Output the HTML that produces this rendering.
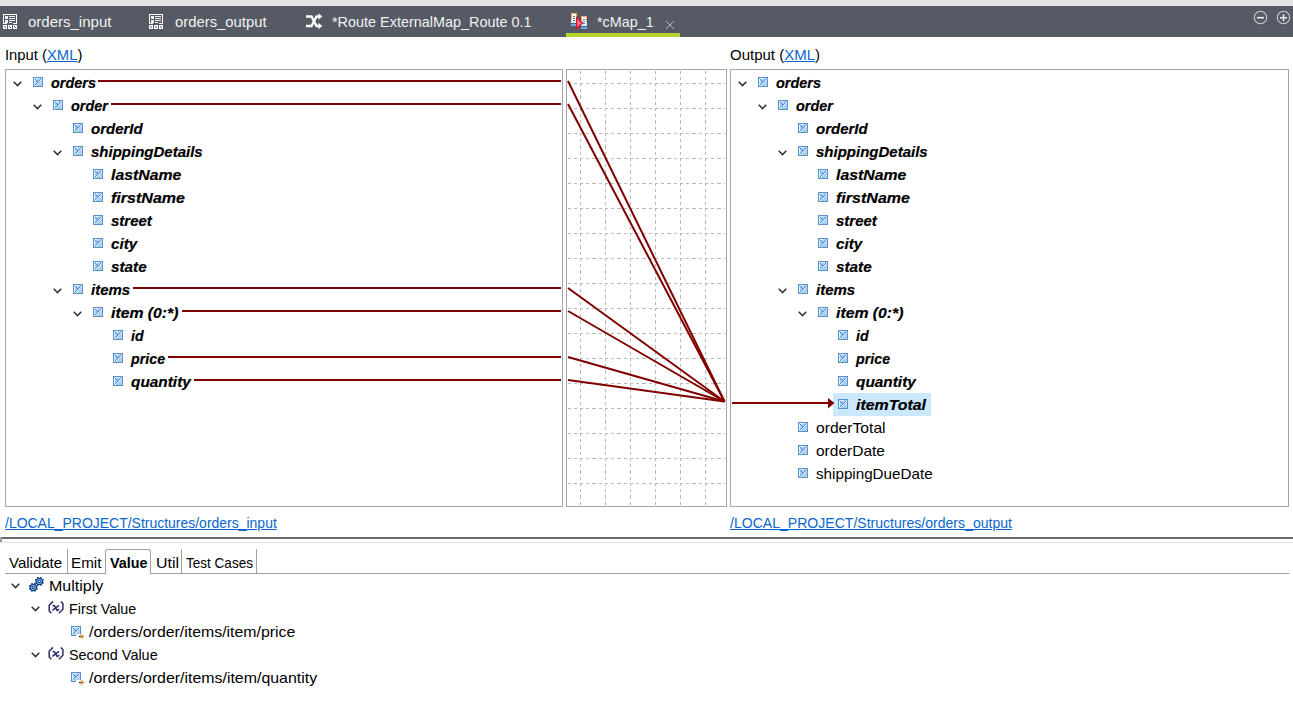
<!DOCTYPE html>
<html><head><meta charset="utf-8">
<style>
*{margin:0;padding:0;box-sizing:border-box}
html,body{width:1293px;height:715px;overflow:hidden;background:#fff}
body{position:relative;font-family:"Liberation Sans", sans-serif;font-size:15px;color:#000}
.a{position:absolute}
.t{position:absolute;white-space:nowrap;line-height:23px;height:23px;transform-origin:0 0}
.bi{font-weight:bold;font-style:italic;-webkit-text-stroke:0.2px #000}
.lnk{color:#0a66cc;text-decoration:underline}
svg{position:absolute;overflow:visible}
</style></head><body>
<svg width="0" height="0" style="position:absolute">
<defs>
<symbol id="el" viewBox="0 0 10 10" shape-rendering="crispEdges">
<rect x="0" y="0" width="10" height="10" fill="#5b8fd0"/>
<rect x="1" y="1" width="8" height="8" fill="#a4d0fa"/>
<rect x="1" y="2" width="1" height="6" fill="#d9fbff"/>
<rect x="2" y="1" width="3" height="1" fill="#d9fbff"/>
<rect x="5" y="1" width="2" height="1" fill="#d4c8ff"/>
<rect x="7" y="1" width="1" height="1" fill="#9fd6c4"/>
<rect x="8" y="3" width="1" height="5" fill="#d0c8ff"/>
<rect x="3" y="8" width="5" height="1" fill="#9fd6c4"/>
<path fill="#5286c8" d="M2 2h1v1h-1zM3 3h1v1h-1zM4 4h1v1h-1zM2 7h1v1h-1zM3 6h1v1h-1zM4 5h1v1h-1zM5 4h1v1h-1zM6 3h1v1h-1zM7 2h1v1h-1z"/>
<path fill="#e0fdff" d="M2 8h1v1h-1zM3 7h1v1h-1zM4 6h1v1h-1zM5 5h1v1h-1zM6 4h1v1h-1zM7 3h1v1h-1zM8 2h1v1h-1z"/>
</symbol>
<symbol id="chev" viewBox="0 0 9 6">
<path d="M0.7 0.8 L4.5 4.6 L8.3 0.8" fill="none" stroke="#333" stroke-width="1.5"/>
</symbol>
</defs></svg>

<div class="a" style="left:0;top:0;width:1293px;height:6px;background:#e4e4e4"></div>
<div class="a" style="left:0;top:6px;width:1293px;height:31px;background:#555a64"></div>
<div class="a" style="left:566px;top:33px;width:114px;height:4px;background:#b6d334"></div>
<svg style="left:3px;top:14px" width="15" height="16" viewBox="0 0 15 16" shape-rendering="crispEdges">
<path fill="#fff" d="M0 0h14v1h-14zM0 0h1v10h-1zM13 0h1v10h-1zM1 9h3v1h-3zM10 9h3v1h-3zM6 8h3v1h-3z"/>
<path fill="#fff" d="M2 2h3v3h-3zM2 6h3v3h-3zM6 2h6v1h-6zM6 4h6v1h-6zM6 6h6v1h-6z" opacity="0.92"/>
<path fill="#fff" d="M0 11h4v4h-4zM5 11h4v4h-4zM10 11h4v4h-4z"/>
<path fill="#555a64" d="M1 12h1v1h-1zM2 13h1v1h-1zM6 12h1v1h-1zM7 13h1v1h-1zM11 12h1v1h-1zM12 13h1v1h-1z"/>
</svg>
<svg style="left:149px;top:14px" width="15" height="16" viewBox="0 0 15 16" shape-rendering="crispEdges">
<path fill="#fff" d="M0 0h14v1h-14zM0 0h1v10h-1zM13 0h1v10h-1zM1 9h3v1h-3zM10 9h3v1h-3zM6 8h3v1h-3z"/>
<path fill="#fff" d="M2 2h3v3h-3zM2 6h3v3h-3zM6 2h6v1h-6zM6 4h6v1h-6zM6 6h6v1h-6z" opacity="0.92"/>
<path fill="#fff" d="M0 11h4v4h-4zM5 11h4v4h-4zM10 11h4v4h-4z"/>
<path fill="#555a64" d="M1 12h1v1h-1zM2 13h1v1h-1zM6 12h1v1h-1zM7 13h1v1h-1zM11 12h1v1h-1zM12 13h1v1h-1z"/>
</svg>
<svg style="left:305px;top:13px" width="18" height="17" viewBox="0 0 18 17">
<path d="M1 3.5 H6.5 L11.5 13 H15" fill="none" stroke="#fff" stroke-width="2.3"/>
<path d="M1 13 H6.5 L11.5 3.5 H15" fill="none" stroke="#fff" stroke-width="2.3"/>
<path d="M13.5 0.3 L17.3 3.5 L13.5 6.7 Z" fill="#fff"/>
<path d="M13.5 9.8 L17.3 13 L13.5 16.2 Z" fill="#fff"/>
</svg>
<svg style="left:570px;top:12px" width="18" height="18" viewBox="0 0 18 18" shape-rendering="crispEdges">
<rect x="1" y="1" width="6" height="10" fill="#f4a860"/>
<rect x="2" y="2" width="4" height="8" fill="#fff"/>
<rect x="1" y="8" width="5" height="3" fill="#c8f8ff"/>
<rect x="3" y="4" width="2" height="1" fill="#666"/><rect x="3" y="6" width="2" height="1" fill="#666"/><rect x="3" y="8" width="2" height="1" fill="#666"/>
<rect x="1" y="12" width="6" height="2" fill="#6ea8e8"/>
<rect x="11" y="4" width="6" height="10" fill="#f4a860"/>
<rect x="12" y="5" width="4" height="8" fill="#fff"/>
<rect x="11" y="11" width="6" height="3" fill="#c8f8ff"/>
<rect x="13" y="7" width="2" height="1" fill="#3a78c8"/><rect x="13" y="9" width="2" height="1" fill="#3a78c8"/><rect x="13" y="11" width="2" height="1" fill="#3a78c8"/>
<rect x="11" y="15" width="6" height="2" fill="#6ea8e8"/>
</svg>
<svg style="left:575px;top:16px" width="9" height="14" viewBox="0 0 9 14">
<path d="M1.6 1.6 L7.6 7 L1.6 12.4 Z" fill="#ff7080" stroke="#e01030" stroke-width="1.2"/>
</svg>
<svg style="left:665px;top:20px" width="10" height="10" viewBox="0 0 10 10">
<path d="M1 1 L9 9 M9 1 L1 9" stroke="#babcc0" stroke-width="1"/>
</svg>
<svg style="left:1252px;top:9px" width="40" height="17" viewBox="0 0 40 17">
<circle cx="8.5" cy="8.5" r="6.2" fill="none" stroke="#cfd0d3" stroke-width="1.1"/>
<path d="M5 8.7 H12" stroke="#f2f2f2" stroke-width="1.6"/>
<circle cx="31.5" cy="8.5" r="6.2" fill="none" stroke="#cfd0d3" stroke-width="1.1"/>
<path d="M28 8.7 H35 M31.5 5.2 V12.2" stroke="#f2f2f2" stroke-width="1.4"/>
</svg>
<div class="t " style="left:28px;top:10px;color:#f2f2f2;">orders_input</div>
<div class="t " style="left:175px;top:10px;color:#f2f2f2;transform:scaleX(0.9891);">orders_output</div>
<div class="t " style="left:332px;top:10px;color:#f2f2f2;transform:scaleX(0.9612);">*Route ExternalMap_Route 0.1</div>
<div class="t " style="left:597px;top:10px;color:#f2f2f2;transform:scaleX(0.9569);">*cMap_1</div>
<div class="t " style="left:5px;top:43px;transform:scaleX(0.9868);">Input (<span class="lnk">XML</span>)</div>
<div class="t " style="left:730px;top:43px;">Output (<span class="lnk">XML</span>)</div>
<div class="a" style="left:5px;top:69px;width:558px;height:438px;border:1px solid #a3a6ad"></div>
<div class="a" style="left:566px;top:69px;width:161px;height:438px;border:1px solid #a3a6ad"></div>
<div class="a" style="left:730px;top:69px;width:559px;height:438px;border:1px solid #a3a6ad"></div>
<svg style="left:13px;top:81px" width="9" height="6"><use href="#chev"/></svg>
<svg style="left:33px;top:77px" width="10" height="10"><use href="#el"/></svg>
<div class="t bi" style="left:51px;top:71px;transform:scaleX(0.9630);">orders</div>
<svg style="left:33px;top:104px" width="9" height="6"><use href="#chev"/></svg>
<svg style="left:53px;top:100px" width="10" height="10"><use href="#el"/></svg>
<div class="t bi" style="left:71px;top:94px;transform:scaleX(0.9615);">order</div>
<svg style="left:73px;top:123px" width="10" height="10"><use href="#el"/></svg>
<div class="t bi" style="left:91px;top:117px;">orderId</div>
<svg style="left:53px;top:150px" width="9" height="6"><use href="#chev"/></svg>
<svg style="left:73px;top:146px" width="10" height="10"><use href="#el"/></svg>
<div class="t bi" style="left:91px;top:140px;">shippingDetails</div>
<svg style="left:93px;top:169px" width="10" height="10"><use href="#el"/></svg>
<div class="t bi" style="left:111px;top:163px;transform:scaleX(1.0545);">lastName</div>
<svg style="left:93px;top:192px" width="10" height="10"><use href="#el"/></svg>
<div class="t bi" style="left:111px;top:186px;transform:scaleX(1.0691);">firstName</div>
<svg style="left:93px;top:215px" width="10" height="10"><use href="#el"/></svg>
<div class="t bi" style="left:111px;top:209px;">street</div>
<svg style="left:93px;top:238px" width="10" height="10"><use href="#el"/></svg>
<div class="t bi" style="left:111px;top:232px;transform:scaleX(1.0115);">city</div>
<svg style="left:93px;top:261px" width="10" height="10"><use href="#el"/></svg>
<div class="t bi" style="left:111px;top:255px;transform:scaleX(1.0200);">state</div>
<svg style="left:53px;top:288px" width="9" height="6"><use href="#chev"/></svg>
<svg style="left:73px;top:284px" width="10" height="10"><use href="#el"/></svg>
<div class="t bi" style="left:91px;top:278px;">items</div>
<svg style="left:73px;top:311px" width="9" height="6"><use href="#chev"/></svg>
<svg style="left:93px;top:307px" width="10" height="10"><use href="#el"/></svg>
<div class="t bi" style="left:111px;top:301px;transform:scaleX(1.0516);">item (0:*)</div>
<svg style="left:113px;top:330px" width="10" height="10"><use href="#el"/></svg>
<div class="t bi" style="left:131px;top:324px;transform:scaleX(0.9429);">id</div>
<svg style="left:113px;top:353px" width="10" height="10"><use href="#el"/></svg>
<div class="t bi" style="left:131px;top:347px;transform:scaleX(0.9500);">price</div>
<svg style="left:113px;top:376px" width="10" height="10"><use href="#el"/></svg>
<div class="t bi" style="left:131px;top:370px;transform:scaleX(1.0254);">quantity</div>
<div class="a" style="left:833px;top:393px;width:98px;height:23px;background:#cce8ff"></div>
<svg style="left:738px;top:81px" width="9" height="6"><use href="#chev"/></svg>
<svg style="left:758px;top:77px" width="10" height="10"><use href="#el"/></svg>
<div class="t bi" style="left:776px;top:71px;transform:scaleX(0.9630);">orders</div>
<svg style="left:758px;top:104px" width="9" height="6"><use href="#chev"/></svg>
<svg style="left:778px;top:100px" width="10" height="10"><use href="#el"/></svg>
<div class="t bi" style="left:796px;top:94px;transform:scaleX(0.9615);">order</div>
<svg style="left:798px;top:123px" width="10" height="10"><use href="#el"/></svg>
<div class="t bi" style="left:816px;top:117px;">orderId</div>
<svg style="left:778px;top:150px" width="9" height="6"><use href="#chev"/></svg>
<svg style="left:798px;top:146px" width="10" height="10"><use href="#el"/></svg>
<div class="t bi" style="left:816px;top:140px;">shippingDetails</div>
<svg style="left:818px;top:169px" width="10" height="10"><use href="#el"/></svg>
<div class="t bi" style="left:836px;top:163px;transform:scaleX(1.0545);">lastName</div>
<svg style="left:818px;top:192px" width="10" height="10"><use href="#el"/></svg>
<div class="t bi" style="left:836px;top:186px;transform:scaleX(1.0691);">firstName</div>
<svg style="left:818px;top:215px" width="10" height="10"><use href="#el"/></svg>
<div class="t bi" style="left:836px;top:209px;">street</div>
<svg style="left:818px;top:238px" width="10" height="10"><use href="#el"/></svg>
<div class="t bi" style="left:836px;top:232px;transform:scaleX(1.0115);">city</div>
<svg style="left:818px;top:261px" width="10" height="10"><use href="#el"/></svg>
<div class="t bi" style="left:836px;top:255px;transform:scaleX(1.0200);">state</div>
<svg style="left:778px;top:288px" width="9" height="6"><use href="#chev"/></svg>
<svg style="left:798px;top:284px" width="10" height="10"><use href="#el"/></svg>
<div class="t bi" style="left:816px;top:278px;">items</div>
<svg style="left:798px;top:311px" width="9" height="6"><use href="#chev"/></svg>
<svg style="left:818px;top:307px" width="10" height="10"><use href="#el"/></svg>
<div class="t bi" style="left:836px;top:301px;transform:scaleX(1.0516);">item (0:*)</div>
<svg style="left:838px;top:330px" width="10" height="10"><use href="#el"/></svg>
<div class="t bi" style="left:856px;top:324px;transform:scaleX(0.9429);">id</div>
<svg style="left:838px;top:353px" width="10" height="10"><use href="#el"/></svg>
<div class="t bi" style="left:856px;top:347px;transform:scaleX(0.9500);">price</div>
<svg style="left:838px;top:376px" width="10" height="10"><use href="#el"/></svg>
<div class="t bi" style="left:856px;top:370px;transform:scaleX(1.0254);">quantity</div>
<svg style="left:838px;top:399px" width="10" height="10"><use href="#el"/></svg>
<div class="t bi" style="left:856px;top:393px;transform:scaleX(1.0582);">itemTotal</div>
<svg style="left:798px;top:422px" width="10" height="10"><use href="#el"/></svg>
<div class="t " style="left:816px;top:416px;transform:scaleX(1.0431);">orderTotal</div>
<svg style="left:798px;top:445px" width="10" height="10"><use href="#el"/></svg>
<div class="t " style="left:816px;top:439px;transform:scaleX(1.0338);">orderDate</div>
<svg style="left:798px;top:468px" width="10" height="10"><use href="#el"/></svg>
<div class="t " style="left:816px;top:462px;transform:scaleX(1.0132);">shippingDueDate</div>
<div class="a" style="left:98px;top:80px;width:463px;height:2px;background:#800000"></div>
<div class="a" style="left:111px;top:103px;width:450px;height:2px;background:#800000"></div>
<div class="a" style="left:133px;top:287px;width:428px;height:2px;background:#800000"></div>
<div class="a" style="left:182px;top:310px;width:379px;height:2px;background:#800000"></div>
<div class="a" style="left:168px;top:356px;width:393px;height:2px;background:#800000"></div>
<div class="a" style="left:194px;top:379px;width:367px;height:2px;background:#800000"></div>
<svg style="left:0;top:0" width="1293" height="715" shape-rendering="crispEdges"><path fill="#b9b9b9" d="M568 83h3v1h-3zM574 83h3v1h-3zM580 83h3v1h-3zM586 83h3v1h-3zM592 83h4v1h-4zM599 83h3v1h-3zM605 83h3v1h-3zM611 83h3v1h-3zM617 83h4v1h-4zM624 83h3v1h-3zM630 83h3v1h-3zM636 83h3v1h-3zM642 83h4v1h-4zM649 83h3v1h-3zM655 83h3v1h-3zM661 83h3v1h-3zM667 83h4v1h-4zM674 83h3v1h-3zM680 83h3v1h-3zM686 83h3v1h-3zM692 83h4v1h-4zM699 83h3v1h-3zM705 83h3v1h-3zM711 83h3v1h-3zM717 83h4v1h-4zM724 83h1v1h-1zM568 108h3v1h-3zM574 108h3v1h-3zM580 108h3v1h-3zM586 108h3v1h-3zM592 108h4v1h-4zM599 108h3v1h-3zM605 108h3v1h-3zM611 108h3v1h-3zM617 108h4v1h-4zM624 108h3v1h-3zM630 108h3v1h-3zM636 108h3v1h-3zM642 108h4v1h-4zM649 108h3v1h-3zM655 108h3v1h-3zM661 108h3v1h-3zM667 108h4v1h-4zM674 108h3v1h-3zM680 108h3v1h-3zM686 108h3v1h-3zM692 108h4v1h-4zM699 108h3v1h-3zM705 108h3v1h-3zM711 108h3v1h-3zM717 108h4v1h-4zM724 108h1v1h-1zM568 133h3v1h-3zM574 133h3v1h-3zM580 133h3v1h-3zM586 133h3v1h-3zM592 133h4v1h-4zM599 133h3v1h-3zM605 133h3v1h-3zM611 133h3v1h-3zM617 133h4v1h-4zM624 133h3v1h-3zM630 133h3v1h-3zM636 133h3v1h-3zM642 133h4v1h-4zM649 133h3v1h-3zM655 133h3v1h-3zM661 133h3v1h-3zM667 133h4v1h-4zM674 133h3v1h-3zM680 133h3v1h-3zM686 133h3v1h-3zM692 133h4v1h-4zM699 133h3v1h-3zM705 133h3v1h-3zM711 133h3v1h-3zM717 133h4v1h-4zM724 133h1v1h-1zM568 158h3v1h-3zM574 158h3v1h-3zM580 158h3v1h-3zM586 158h3v1h-3zM592 158h4v1h-4zM599 158h3v1h-3zM605 158h3v1h-3zM611 158h3v1h-3zM617 158h4v1h-4zM624 158h3v1h-3zM630 158h3v1h-3zM636 158h3v1h-3zM642 158h4v1h-4zM649 158h3v1h-3zM655 158h3v1h-3zM661 158h3v1h-3zM667 158h4v1h-4zM674 158h3v1h-3zM680 158h3v1h-3zM686 158h3v1h-3zM692 158h4v1h-4zM699 158h3v1h-3zM705 158h3v1h-3zM711 158h3v1h-3zM717 158h4v1h-4zM724 158h1v1h-1zM568 183h3v1h-3zM574 183h3v1h-3zM580 183h3v1h-3zM586 183h3v1h-3zM592 183h4v1h-4zM599 183h3v1h-3zM605 183h3v1h-3zM611 183h3v1h-3zM617 183h4v1h-4zM624 183h3v1h-3zM630 183h3v1h-3zM636 183h3v1h-3zM642 183h4v1h-4zM649 183h3v1h-3zM655 183h3v1h-3zM661 183h3v1h-3zM667 183h4v1h-4zM674 183h3v1h-3zM680 183h3v1h-3zM686 183h3v1h-3zM692 183h4v1h-4zM699 183h3v1h-3zM705 183h3v1h-3zM711 183h3v1h-3zM717 183h4v1h-4zM724 183h1v1h-1zM568 208h3v1h-3zM574 208h3v1h-3zM580 208h3v1h-3zM586 208h3v1h-3zM592 208h4v1h-4zM599 208h3v1h-3zM605 208h3v1h-3zM611 208h3v1h-3zM617 208h4v1h-4zM624 208h3v1h-3zM630 208h3v1h-3zM636 208h3v1h-3zM642 208h4v1h-4zM649 208h3v1h-3zM655 208h3v1h-3zM661 208h3v1h-3zM667 208h4v1h-4zM674 208h3v1h-3zM680 208h3v1h-3zM686 208h3v1h-3zM692 208h4v1h-4zM699 208h3v1h-3zM705 208h3v1h-3zM711 208h3v1h-3zM717 208h4v1h-4zM724 208h1v1h-1zM568 233h3v1h-3zM574 233h3v1h-3zM580 233h3v1h-3zM586 233h3v1h-3zM592 233h4v1h-4zM599 233h3v1h-3zM605 233h3v1h-3zM611 233h3v1h-3zM617 233h4v1h-4zM624 233h3v1h-3zM630 233h3v1h-3zM636 233h3v1h-3zM642 233h4v1h-4zM649 233h3v1h-3zM655 233h3v1h-3zM661 233h3v1h-3zM667 233h4v1h-4zM674 233h3v1h-3zM680 233h3v1h-3zM686 233h3v1h-3zM692 233h4v1h-4zM699 233h3v1h-3zM705 233h3v1h-3zM711 233h3v1h-3zM717 233h4v1h-4zM724 233h1v1h-1zM568 258h3v1h-3zM574 258h3v1h-3zM580 258h3v1h-3zM586 258h3v1h-3zM592 258h4v1h-4zM599 258h3v1h-3zM605 258h3v1h-3zM611 258h3v1h-3zM617 258h4v1h-4zM624 258h3v1h-3zM630 258h3v1h-3zM636 258h3v1h-3zM642 258h4v1h-4zM649 258h3v1h-3zM655 258h3v1h-3zM661 258h3v1h-3zM667 258h4v1h-4zM674 258h3v1h-3zM680 258h3v1h-3zM686 258h3v1h-3zM692 258h4v1h-4zM699 258h3v1h-3zM705 258h3v1h-3zM711 258h3v1h-3zM717 258h4v1h-4zM724 258h1v1h-1zM568 283h3v1h-3zM574 283h3v1h-3zM580 283h3v1h-3zM586 283h3v1h-3zM592 283h4v1h-4zM599 283h3v1h-3zM605 283h3v1h-3zM611 283h3v1h-3zM617 283h4v1h-4zM624 283h3v1h-3zM630 283h3v1h-3zM636 283h3v1h-3zM642 283h4v1h-4zM649 283h3v1h-3zM655 283h3v1h-3zM661 283h3v1h-3zM667 283h4v1h-4zM674 283h3v1h-3zM680 283h3v1h-3zM686 283h3v1h-3zM692 283h4v1h-4zM699 283h3v1h-3zM705 283h3v1h-3zM711 283h3v1h-3zM717 283h4v1h-4zM724 283h1v1h-1zM568 308h3v1h-3zM574 308h3v1h-3zM580 308h3v1h-3zM586 308h3v1h-3zM592 308h4v1h-4zM599 308h3v1h-3zM605 308h3v1h-3zM611 308h3v1h-3zM617 308h4v1h-4zM624 308h3v1h-3zM630 308h3v1h-3zM636 308h3v1h-3zM642 308h4v1h-4zM649 308h3v1h-3zM655 308h3v1h-3zM661 308h3v1h-3zM667 308h4v1h-4zM674 308h3v1h-3zM680 308h3v1h-3zM686 308h3v1h-3zM692 308h4v1h-4zM699 308h3v1h-3zM705 308h3v1h-3zM711 308h3v1h-3zM717 308h4v1h-4zM724 308h1v1h-1zM568 333h3v1h-3zM574 333h3v1h-3zM580 333h3v1h-3zM586 333h3v1h-3zM592 333h4v1h-4zM599 333h3v1h-3zM605 333h3v1h-3zM611 333h3v1h-3zM617 333h4v1h-4zM624 333h3v1h-3zM630 333h3v1h-3zM636 333h3v1h-3zM642 333h4v1h-4zM649 333h3v1h-3zM655 333h3v1h-3zM661 333h3v1h-3zM667 333h4v1h-4zM674 333h3v1h-3zM680 333h3v1h-3zM686 333h3v1h-3zM692 333h4v1h-4zM699 333h3v1h-3zM705 333h3v1h-3zM711 333h3v1h-3zM717 333h4v1h-4zM724 333h1v1h-1zM568 358h3v1h-3zM574 358h3v1h-3zM580 358h3v1h-3zM586 358h3v1h-3zM592 358h4v1h-4zM599 358h3v1h-3zM605 358h3v1h-3zM611 358h3v1h-3zM617 358h4v1h-4zM624 358h3v1h-3zM630 358h3v1h-3zM636 358h3v1h-3zM642 358h4v1h-4zM649 358h3v1h-3zM655 358h3v1h-3zM661 358h3v1h-3zM667 358h4v1h-4zM674 358h3v1h-3zM680 358h3v1h-3zM686 358h3v1h-3zM692 358h4v1h-4zM699 358h3v1h-3zM705 358h3v1h-3zM711 358h3v1h-3zM717 358h4v1h-4zM724 358h1v1h-1zM568 383h3v1h-3zM574 383h3v1h-3zM580 383h3v1h-3zM586 383h3v1h-3zM592 383h4v1h-4zM599 383h3v1h-3zM605 383h3v1h-3zM611 383h3v1h-3zM617 383h4v1h-4zM624 383h3v1h-3zM630 383h3v1h-3zM636 383h3v1h-3zM642 383h4v1h-4zM649 383h3v1h-3zM655 383h3v1h-3zM661 383h3v1h-3zM667 383h4v1h-4zM674 383h3v1h-3zM680 383h3v1h-3zM686 383h3v1h-3zM692 383h4v1h-4zM699 383h3v1h-3zM705 383h3v1h-3zM711 383h3v1h-3zM717 383h4v1h-4zM724 383h1v1h-1zM568 408h3v1h-3zM574 408h3v1h-3zM580 408h3v1h-3zM586 408h3v1h-3zM592 408h4v1h-4zM599 408h3v1h-3zM605 408h3v1h-3zM611 408h3v1h-3zM617 408h4v1h-4zM624 408h3v1h-3zM630 408h3v1h-3zM636 408h3v1h-3zM642 408h4v1h-4zM649 408h3v1h-3zM655 408h3v1h-3zM661 408h3v1h-3zM667 408h4v1h-4zM674 408h3v1h-3zM680 408h3v1h-3zM686 408h3v1h-3zM692 408h4v1h-4zM699 408h3v1h-3zM705 408h3v1h-3zM711 408h3v1h-3zM717 408h4v1h-4zM724 408h1v1h-1zM568 433h3v1h-3zM574 433h3v1h-3zM580 433h3v1h-3zM586 433h3v1h-3zM592 433h4v1h-4zM599 433h3v1h-3zM605 433h3v1h-3zM611 433h3v1h-3zM617 433h4v1h-4zM624 433h3v1h-3zM630 433h3v1h-3zM636 433h3v1h-3zM642 433h4v1h-4zM649 433h3v1h-3zM655 433h3v1h-3zM661 433h3v1h-3zM667 433h4v1h-4zM674 433h3v1h-3zM680 433h3v1h-3zM686 433h3v1h-3zM692 433h4v1h-4zM699 433h3v1h-3zM705 433h3v1h-3zM711 433h3v1h-3zM717 433h4v1h-4zM724 433h1v1h-1zM568 458h3v1h-3zM574 458h3v1h-3zM580 458h3v1h-3zM586 458h3v1h-3zM592 458h4v1h-4zM599 458h3v1h-3zM605 458h3v1h-3zM611 458h3v1h-3zM617 458h4v1h-4zM624 458h3v1h-3zM630 458h3v1h-3zM636 458h3v1h-3zM642 458h4v1h-4zM649 458h3v1h-3zM655 458h3v1h-3zM661 458h3v1h-3zM667 458h4v1h-4zM674 458h3v1h-3zM680 458h3v1h-3zM686 458h3v1h-3zM692 458h4v1h-4zM699 458h3v1h-3zM705 458h3v1h-3zM711 458h3v1h-3zM717 458h4v1h-4zM724 458h1v1h-1zM568 483h3v1h-3zM574 483h3v1h-3zM580 483h3v1h-3zM586 483h3v1h-3zM592 483h4v1h-4zM599 483h3v1h-3zM605 483h3v1h-3zM611 483h3v1h-3zM617 483h4v1h-4zM624 483h3v1h-3zM630 483h3v1h-3zM636 483h3v1h-3zM642 483h4v1h-4zM649 483h3v1h-3zM655 483h3v1h-3zM661 483h3v1h-3zM667 483h4v1h-4zM674 483h3v1h-3zM680 483h3v1h-3zM686 483h3v1h-3zM692 483h4v1h-4zM699 483h3v1h-3zM705 483h3v1h-3zM711 483h3v1h-3zM717 483h4v1h-4zM724 483h1v1h-1zM580 71h1v3h-1zM580 77h1v3h-1zM580 83h1v3h-1zM580 89h1v3h-1zM580 95h1v4h-1zM580 102h1v3h-1zM580 108h1v3h-1zM580 114h1v3h-1zM580 120h1v4h-1zM580 127h1v3h-1zM580 133h1v3h-1zM580 139h1v3h-1zM580 145h1v4h-1zM580 152h1v3h-1zM580 158h1v3h-1zM580 164h1v3h-1zM580 170h1v4h-1zM580 177h1v3h-1zM580 183h1v3h-1zM580 189h1v3h-1zM580 195h1v4h-1zM580 202h1v3h-1zM580 208h1v3h-1zM580 214h1v3h-1zM580 220h1v4h-1zM580 227h1v3h-1zM580 233h1v3h-1zM580 239h1v3h-1zM580 245h1v4h-1zM580 252h1v3h-1zM580 258h1v3h-1zM580 264h1v3h-1zM580 270h1v4h-1zM580 277h1v3h-1zM580 283h1v3h-1zM580 289h1v3h-1zM580 295h1v4h-1zM580 302h1v3h-1zM580 308h1v3h-1zM580 314h1v3h-1zM580 320h1v4h-1zM580 327h1v3h-1zM580 333h1v3h-1zM580 339h1v3h-1zM580 345h1v4h-1zM580 352h1v3h-1zM580 358h1v3h-1zM580 364h1v3h-1zM580 370h1v4h-1zM580 377h1v3h-1zM580 383h1v3h-1zM580 389h1v3h-1zM580 395h1v4h-1zM580 402h1v3h-1zM580 408h1v3h-1zM580 414h1v3h-1zM580 420h1v4h-1zM580 427h1v3h-1zM580 433h1v3h-1zM580 439h1v3h-1zM580 445h1v4h-1zM580 452h1v3h-1zM580 458h1v3h-1zM580 464h1v3h-1zM580 470h1v4h-1zM580 477h1v3h-1zM580 483h1v3h-1zM580 489h1v3h-1zM580 495h1v4h-1zM580 502h1v3h-1zM605 71h1v3h-1zM605 77h1v3h-1zM605 83h1v3h-1zM605 89h1v3h-1zM605 95h1v4h-1zM605 102h1v3h-1zM605 108h1v3h-1zM605 114h1v3h-1zM605 120h1v4h-1zM605 127h1v3h-1zM605 133h1v3h-1zM605 139h1v3h-1zM605 145h1v4h-1zM605 152h1v3h-1zM605 158h1v3h-1zM605 164h1v3h-1zM605 170h1v4h-1zM605 177h1v3h-1zM605 183h1v3h-1zM605 189h1v3h-1zM605 195h1v4h-1zM605 202h1v3h-1zM605 208h1v3h-1zM605 214h1v3h-1zM605 220h1v4h-1zM605 227h1v3h-1zM605 233h1v3h-1zM605 239h1v3h-1zM605 245h1v4h-1zM605 252h1v3h-1zM605 258h1v3h-1zM605 264h1v3h-1zM605 270h1v4h-1zM605 277h1v3h-1zM605 283h1v3h-1zM605 289h1v3h-1zM605 295h1v4h-1zM605 302h1v3h-1zM605 308h1v3h-1zM605 314h1v3h-1zM605 320h1v4h-1zM605 327h1v3h-1zM605 333h1v3h-1zM605 339h1v3h-1zM605 345h1v4h-1zM605 352h1v3h-1zM605 358h1v3h-1zM605 364h1v3h-1zM605 370h1v4h-1zM605 377h1v3h-1zM605 383h1v3h-1zM605 389h1v3h-1zM605 395h1v4h-1zM605 402h1v3h-1zM605 408h1v3h-1zM605 414h1v3h-1zM605 420h1v4h-1zM605 427h1v3h-1zM605 433h1v3h-1zM605 439h1v3h-1zM605 445h1v4h-1zM605 452h1v3h-1zM605 458h1v3h-1zM605 464h1v3h-1zM605 470h1v4h-1zM605 477h1v3h-1zM605 483h1v3h-1zM605 489h1v3h-1zM605 495h1v4h-1zM605 502h1v3h-1zM630 71h1v3h-1zM630 77h1v3h-1zM630 83h1v3h-1zM630 89h1v3h-1zM630 95h1v4h-1zM630 102h1v3h-1zM630 108h1v3h-1zM630 114h1v3h-1zM630 120h1v4h-1zM630 127h1v3h-1zM630 133h1v3h-1zM630 139h1v3h-1zM630 145h1v4h-1zM630 152h1v3h-1zM630 158h1v3h-1zM630 164h1v3h-1zM630 170h1v4h-1zM630 177h1v3h-1zM630 183h1v3h-1zM630 189h1v3h-1zM630 195h1v4h-1zM630 202h1v3h-1zM630 208h1v3h-1zM630 214h1v3h-1zM630 220h1v4h-1zM630 227h1v3h-1zM630 233h1v3h-1zM630 239h1v3h-1zM630 245h1v4h-1zM630 252h1v3h-1zM630 258h1v3h-1zM630 264h1v3h-1zM630 270h1v4h-1zM630 277h1v3h-1zM630 283h1v3h-1zM630 289h1v3h-1zM630 295h1v4h-1zM630 302h1v3h-1zM630 308h1v3h-1zM630 314h1v3h-1zM630 320h1v4h-1zM630 327h1v3h-1zM630 333h1v3h-1zM630 339h1v3h-1zM630 345h1v4h-1zM630 352h1v3h-1zM630 358h1v3h-1zM630 364h1v3h-1zM630 370h1v4h-1zM630 377h1v3h-1zM630 383h1v3h-1zM630 389h1v3h-1zM630 395h1v4h-1zM630 402h1v3h-1zM630 408h1v3h-1zM630 414h1v3h-1zM630 420h1v4h-1zM630 427h1v3h-1zM630 433h1v3h-1zM630 439h1v3h-1zM630 445h1v4h-1zM630 452h1v3h-1zM630 458h1v3h-1zM630 464h1v3h-1zM630 470h1v4h-1zM630 477h1v3h-1zM630 483h1v3h-1zM630 489h1v3h-1zM630 495h1v4h-1zM630 502h1v3h-1zM655 71h1v3h-1zM655 77h1v3h-1zM655 83h1v3h-1zM655 89h1v3h-1zM655 95h1v4h-1zM655 102h1v3h-1zM655 108h1v3h-1zM655 114h1v3h-1zM655 120h1v4h-1zM655 127h1v3h-1zM655 133h1v3h-1zM655 139h1v3h-1zM655 145h1v4h-1zM655 152h1v3h-1zM655 158h1v3h-1zM655 164h1v3h-1zM655 170h1v4h-1zM655 177h1v3h-1zM655 183h1v3h-1zM655 189h1v3h-1zM655 195h1v4h-1zM655 202h1v3h-1zM655 208h1v3h-1zM655 214h1v3h-1zM655 220h1v4h-1zM655 227h1v3h-1zM655 233h1v3h-1zM655 239h1v3h-1zM655 245h1v4h-1zM655 252h1v3h-1zM655 258h1v3h-1zM655 264h1v3h-1zM655 270h1v4h-1zM655 277h1v3h-1zM655 283h1v3h-1zM655 289h1v3h-1zM655 295h1v4h-1zM655 302h1v3h-1zM655 308h1v3h-1zM655 314h1v3h-1zM655 320h1v4h-1zM655 327h1v3h-1zM655 333h1v3h-1zM655 339h1v3h-1zM655 345h1v4h-1zM655 352h1v3h-1zM655 358h1v3h-1zM655 364h1v3h-1zM655 370h1v4h-1zM655 377h1v3h-1zM655 383h1v3h-1zM655 389h1v3h-1zM655 395h1v4h-1zM655 402h1v3h-1zM655 408h1v3h-1zM655 414h1v3h-1zM655 420h1v4h-1zM655 427h1v3h-1zM655 433h1v3h-1zM655 439h1v3h-1zM655 445h1v4h-1zM655 452h1v3h-1zM655 458h1v3h-1zM655 464h1v3h-1zM655 470h1v4h-1zM655 477h1v3h-1zM655 483h1v3h-1zM655 489h1v3h-1zM655 495h1v4h-1zM655 502h1v3h-1zM680 71h1v3h-1zM680 77h1v3h-1zM680 83h1v3h-1zM680 89h1v3h-1zM680 95h1v4h-1zM680 102h1v3h-1zM680 108h1v3h-1zM680 114h1v3h-1zM680 120h1v4h-1zM680 127h1v3h-1zM680 133h1v3h-1zM680 139h1v3h-1zM680 145h1v4h-1zM680 152h1v3h-1zM680 158h1v3h-1zM680 164h1v3h-1zM680 170h1v4h-1zM680 177h1v3h-1zM680 183h1v3h-1zM680 189h1v3h-1zM680 195h1v4h-1zM680 202h1v3h-1zM680 208h1v3h-1zM680 214h1v3h-1zM680 220h1v4h-1zM680 227h1v3h-1zM680 233h1v3h-1zM680 239h1v3h-1zM680 245h1v4h-1zM680 252h1v3h-1zM680 258h1v3h-1zM680 264h1v3h-1zM680 270h1v4h-1zM680 277h1v3h-1zM680 283h1v3h-1zM680 289h1v3h-1zM680 295h1v4h-1zM680 302h1v3h-1zM680 308h1v3h-1zM680 314h1v3h-1zM680 320h1v4h-1zM680 327h1v3h-1zM680 333h1v3h-1zM680 339h1v3h-1zM680 345h1v4h-1zM680 352h1v3h-1zM680 358h1v3h-1zM680 364h1v3h-1zM680 370h1v4h-1zM680 377h1v3h-1zM680 383h1v3h-1zM680 389h1v3h-1zM680 395h1v4h-1zM680 402h1v3h-1zM680 408h1v3h-1zM680 414h1v3h-1zM680 420h1v4h-1zM680 427h1v3h-1zM680 433h1v3h-1zM680 439h1v3h-1zM680 445h1v4h-1zM680 452h1v3h-1zM680 458h1v3h-1zM680 464h1v3h-1zM680 470h1v4h-1zM680 477h1v3h-1zM680 483h1v3h-1zM680 489h1v3h-1zM680 495h1v4h-1zM680 502h1v3h-1zM705 71h1v3h-1zM705 77h1v3h-1zM705 83h1v3h-1zM705 89h1v3h-1zM705 95h1v4h-1zM705 102h1v3h-1zM705 108h1v3h-1zM705 114h1v3h-1zM705 120h1v4h-1zM705 127h1v3h-1zM705 133h1v3h-1zM705 139h1v3h-1zM705 145h1v4h-1zM705 152h1v3h-1zM705 158h1v3h-1zM705 164h1v3h-1zM705 170h1v4h-1zM705 177h1v3h-1zM705 183h1v3h-1zM705 189h1v3h-1zM705 195h1v4h-1zM705 202h1v3h-1zM705 208h1v3h-1zM705 214h1v3h-1zM705 220h1v4h-1zM705 227h1v3h-1zM705 233h1v3h-1zM705 239h1v3h-1zM705 245h1v4h-1zM705 252h1v3h-1zM705 258h1v3h-1zM705 264h1v3h-1zM705 270h1v4h-1zM705 277h1v3h-1zM705 283h1v3h-1zM705 289h1v3h-1zM705 295h1v4h-1zM705 302h1v3h-1zM705 308h1v3h-1zM705 314h1v3h-1zM705 320h1v4h-1zM705 327h1v3h-1zM705 333h1v3h-1zM705 339h1v3h-1zM705 345h1v4h-1zM705 352h1v3h-1zM705 358h1v3h-1zM705 364h1v3h-1zM705 370h1v4h-1zM705 377h1v3h-1zM705 383h1v3h-1zM705 389h1v3h-1zM705 395h1v4h-1zM705 402h1v3h-1zM705 408h1v3h-1zM705 414h1v3h-1zM705 420h1v4h-1zM705 427h1v3h-1zM705 433h1v3h-1zM705 439h1v3h-1zM705 445h1v4h-1zM705 452h1v3h-1zM705 458h1v3h-1zM705 464h1v3h-1zM705 470h1v4h-1zM705 477h1v3h-1zM705 483h1v3h-1zM705 489h1v3h-1zM705 495h1v4h-1zM705 502h1v3h-1z"/></svg>
<svg style="left:0;top:0" width="1293" height="715"><g stroke="#800000" stroke-width="2"><line x1="568" y1="81" x2="724.5" y2="401.5"/><line x1="568" y1="104" x2="724.5" y2="401.5"/><line x1="568" y1="288" x2="724.5" y2="401.5"/><line x1="568" y1="311" x2="724.5" y2="401.5"/><line x1="568" y1="357" x2="724.5" y2="401.5"/><line x1="568" y1="380" x2="724.5" y2="401.5"/></g><rect x="732" y="402" width="97" height="2" fill="#800000"/><path d="M828 398 L834.5 403 L828 408.5 Z" fill="#800000"/></svg>
<div class="t lnk" style="left:5px;top:511px;transform:scaleX(0.9315);">/LOCAL_PROJECT/Structures/orders_input</div>
<div class="t lnk" style="left:730px;top:511px;transform:scaleX(0.9369);">/LOCAL_PROJECT/Structures/orders_output</div>
<div class="a" style="left:0;top:537px;width:1293px;height:2px;background:#696969"></div>
<div class="a" style="left:0;top:537px;width:2px;height:6px;background:#9a9a9a"></div>
<div class="a" style="left:0;top:542px;width:1293px;height:1px;background:#e0e0e0"></div>
<div class="a" style="left:5px;top:573px;width:1284px;height:1px;background:#a0a0a0"></div>
<div class="a" style="left:67px;top:549px;width:1px;height:24px;background:#a0a0a0"></div>
<div class="a" style="left:181px;top:549px;width:1px;height:24px;background:#a0a0a0"></div>
<div class="a" style="left:256px;top:549px;width:1px;height:24px;background:#a0a0a0"></div>
<div class="a" style="left:105px;top:549px;width:46px;height:25px;border:1px solid #a0a0a0;border-bottom:none;border-radius:3px 3px 0 0;background:#fff"></div>
<div class="t " style="left:9px;top:551px;">Validate</div>
<div class="t " style="left:71px;top:551px;transform:scaleX(1.0138);">Emit</div>
<div class="t " style="left:110px;top:551px;font-weight:bold;transform:scaleX(0.9538);">Value</div>
<div class="t " style="left:156px;top:551px;transform:scaleX(1.0650);">Util</div>
<div class="t " style="left:186px;top:551px;transform:scaleX(0.9027);">Test Cases</div>
<svg style="left:11px;top:583px" width="9" height="6"><use href="#chev"/></svg>
<div class="t " style="left:49px;top:574px;transform:scaleX(1.0680);">Multiply</div>
<svg style="left:27px;top:575px" width="20" height="20" viewBox="0 0 20 20"><g fill="#0b3f80"><circle cx="6.4" cy="12.4" r="3.7"/><circle cx="9.82" cy="13.81" r="0.95"/><circle cx="7.83" cy="15.81" r="0.95"/><circle cx="4.99" cy="15.82" r="0.95"/><circle cx="2.99" cy="13.83" r="0.95"/><circle cx="2.98" cy="10.99" r="0.95"/><circle cx="4.97" cy="8.99" r="0.95"/><circle cx="7.81" cy="8.98" r="0.95"/><circle cx="9.81" cy="10.97" r="0.95"/></g><circle cx="6.4" cy="12.4" r="2.6" fill="#74a6e4"/><circle cx="6.4" cy="12.4" r="1.5" fill="#0b3f80"/><circle cx="6.4" cy="12.4" r="0.7" fill="#fff"/><g fill="#0b3f80"><circle cx="12.4" cy="6.4" r="3.7"/><circle cx="15.82" cy="7.81" r="0.95"/><circle cx="13.83" cy="9.81" r="0.95"/><circle cx="10.99" cy="9.82" r="0.95"/><circle cx="8.99" cy="7.83" r="0.95"/><circle cx="8.98" cy="4.99" r="0.95"/><circle cx="10.97" cy="2.99" r="0.95"/><circle cx="13.81" cy="2.98" r="0.95"/><circle cx="15.81" cy="4.97" r="0.95"/></g><circle cx="12.4" cy="6.4" r="2.6" fill="#74a6e4"/><circle cx="12.4" cy="6.4" r="1.5" fill="#0b3f80"/><circle cx="12.4" cy="6.4" r="0.7" fill="#fff"/></svg>
<svg style="left:31px;top:606px" width="9" height="6"><use href="#chev"/></svg>
<div class="t " style="left:69px;top:597px;transform:scaleX(0.9522);">First Value</div>
<svg style="left:46px;top:598px" width="20" height="20" viewBox="0 0 20 20">
<g fill="none" stroke="#2c2c6e" stroke-width="1.5" stroke-linejoin="round">
<path d="M7 3.4 L3.2 7.2 V13 L5.4 15.2"/><path d="M14.8 3.4 L16.9 5.6 V11.2 L12.9 15.2"/>
<path d="M6.6 7.7 Q8.6 7.2 9.6 9.6 L11.2 12.7 L13.2 11.2"/><path d="M12.9 7.4 L6.4 12.4"/>
</g></svg>
<div class="t " style="left:89px;top:620px;transform:scaleX(1.0579);">/orders/order/items/item/price</div>
<svg style="left:71px;top:626px" width="14" height="14" viewBox="0 0 14 14"><use href="#el" width="10" height="10"/>
<rect x="5" y="8" width="6" height="3" fill="#fff"/>
<rect x="8" y="9.8" width="2.5" height="1.4" fill="#1a3d7a"/>
<path d="M10.2 7.8 L13.4 10.5 L10.2 13.2 Z" fill="#e68a2e"/></svg>
<svg style="left:31px;top:652px" width="9" height="6"><use href="#chev"/></svg>
<div class="t " style="left:69px;top:643px;transform:scaleX(0.9604);">Second Value</div>
<svg style="left:46px;top:644px" width="20" height="20" viewBox="0 0 20 20">
<g fill="none" stroke="#2c2c6e" stroke-width="1.5" stroke-linejoin="round">
<path d="M7 3.4 L3.2 7.2 V13 L5.4 15.2"/><path d="M14.8 3.4 L16.9 5.6 V11.2 L12.9 15.2"/>
<path d="M6.6 7.7 Q8.6 7.2 9.6 9.6 L11.2 12.7 L13.2 11.2"/><path d="M12.9 7.4 L6.4 12.4"/>
</g></svg>
<div class="t " style="left:89px;top:666px;transform:scaleX(1.0605);">/orders/order/items/item/quantity</div>
<svg style="left:71px;top:672px" width="14" height="14" viewBox="0 0 14 14"><use href="#el" width="10" height="10"/>
<rect x="5" y="8" width="6" height="3" fill="#fff"/>
<rect x="8" y="9.8" width="2.5" height="1.4" fill="#1a3d7a"/>
<path d="M10.2 7.8 L13.4 10.5 L10.2 13.2 Z" fill="#e68a2e"/></svg>
</body></html>
